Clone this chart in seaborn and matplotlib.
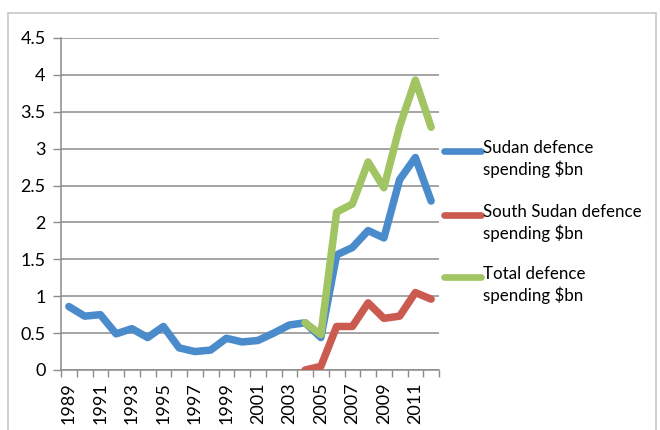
import numpy as np
import pandas as pd
import seaborn as sns
import matplotlib
matplotlib.use("Agg")
import matplotlib.pyplot as plt
from matplotlib.lines import Line2D

years = list(range(1989, 2013))
sudan = [0.86, 0.73, 0.75, 0.49, 0.56, 0.44, 0.59, 0.30, 0.25, 0.27, 0.43, 0.38,
         0.40, 0.50, 0.61, 0.64, 0.44, 1.56, 1.66, 1.89, 1.79, 2.58, 2.88, 2.29]
south_sudan = [np.nan] * 15 + [0.00, 0.05, 0.59, 0.59, 0.91, 0.70, 0.73, 1.05, 0.96]
total = [np.nan] * 15 + [0.64, 0.48, 2.14, 2.25, 2.82, 2.47, 3.30, 3.93, 3.29]

series_names = ["Sudan defence\nspending \\$bn",
                "South Sudan defence\nspending \\$bn",
                "Total defence\nspending \\$bn"]
colors = ["#4A8BCC", "#CB5A50", "#A2C563"]
yticks = [0, 0.5, 1, 1.5, 2, 2.5, 3, 3.5, 4, 4.5]
xtick_years = list(range(1989, 2013, 2))

df = pd.DataFrame({
    "year": years * 3,
    "value": sudan + south_sudan + total,
    "series": [series_names[0]] * 24 + [series_names[1]] * 24 + [series_names[2]] * 24,
})

sns.set_theme(style="white")
plt.rcParams["font.family"] = ["Lato", "DejaVu Sans"]

W, H = 660, 430
fig = plt.figure(figsize=(W / 100, H / 100), dpi=100)
ax = fig.add_axes([61 / W, 1 - 370 / H, (439 - 61) / W, (370 - 38) / H])

sns.lineplot(data=df, x="year", y="value", hue="series", palette=colors,
             hue_order=series_names, linewidth=5.4, legend=False, ax=ax,
             solid_capstyle="round", solid_joinstyle="round")

grid_c = "#8C8C8C"
tick_fs = 13
ax.set_xlim(1988.5, 2012.5)
ax.set_ylim(0, 4.5)
ax.set_yticks(yticks)
ax.set_yticklabels([f"{v:g}" for v in yticks], fontsize=tick_fs, color="#000000")
ax.yaxis.grid(True, color=grid_c, linewidth=1.1)
ax.set_axisbelow(True)
for ln in ax.get_lines():
    ln.set_zorder(3)

# category labels on odd years, tick marks between categories
ax.set_xticks(xtick_years)
ax.set_xticklabels([str(y) for y in xtick_years], rotation=90, fontsize=tick_fs,
                   color="#000000")
ax.set_xticks(np.arange(1988.5, 2013, 1.0), minor=True)
ax.tick_params(axis="x", which="major", length=0, pad=9)
ax.tick_params(axis="x", which="minor", length=5, width=1, color=grid_c,
               direction="out", bottom=True)
ax.tick_params(axis="y", length=6, width=1, color=grid_c, direction="out",
               left=True, pad=5)
ax.set_xlabel("")
ax.set_ylabel("")
for side in ["top", "right"]:
    ax.spines[side].set_visible(False)
for side in ["left", "bottom"]:
    ax.spines[side].set_color(grid_c)
    ax.spines[side].set_linewidth(1.1)

# legend at right, handles aligned with the first line of each label
legend_rows = [151, 215, 277]
for name, c, yrow in zip(series_names, colors, legend_rows):
    fig.add_artist(Line2D([444 / W, 481 / W], [1 - yrow / H] * 2, color=c,
                          linewidth=4.8, solid_capstyle="round",
                          transform=fig.transFigure))
    fig.text(483 / W, 1 - (yrow - 11) / H, name, fontsize=12.2, va="top",
             ha="left", linespacing=1.3, color="#000000")

# outer chart border
frame_c = "#C8C8C8"
fig.add_artist(Line2D([8 / W, 656 / W], [1 - 13 / H] * 2, color=frame_c,
                      linewidth=1.2, transform=fig.transFigure))
fig.add_artist(Line2D([8 / W, 8 / W], [0, 1 - 13 / H], color=frame_c,
                      linewidth=1.2, transform=fig.transFigure))
fig.add_artist(Line2D([656 / W, 656 / W], [0, 1 - 13 / H], color=frame_c,
                      linewidth=1.2, transform=fig.transFigure))

fig.savefig("out.png", dpi=100, facecolor="white")
